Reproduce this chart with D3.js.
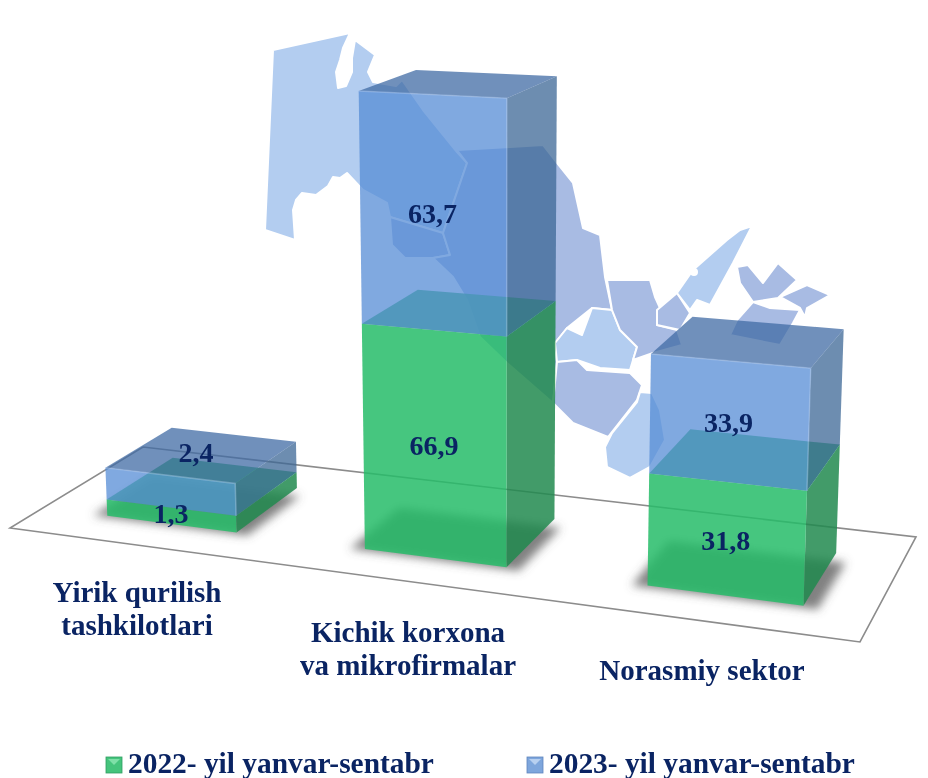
<!DOCTYPE html>
<html>
<head>
<meta charset="utf-8">
<script src="https://cdn.jsdelivr.net/npm/d3@7"></script>
<style>
  html, body { margin: 0; background: #fff; }
  text { font-family: "Liberation Serif", serif; font-weight: bold; fill: #0a2463; }
</style>
</head>
<body>
<div id="chart"></div>
<script>
// Data
const categories = ["Yirik qurilish tashkilotlari", "Kichik korxona va mikrofirmalar", "Norasmiy sektor"];
const values2022 = [1.3, 66.9, 31.8];
const values2023 = [2.4, 63.7, 33.9];
const seriesNames = ["2022- yil yanvar-sentabr", "2023- yil yanvar-sentabr"];
const categoryLines = [["Yirik qurilish", "tashkilotlari"], ["Kichik korxona", "va mikrofirmalar"], ["Norasmiy sektor"]];

const width = 928, height = 778;

const svg = d3.select("#chart").append("svg")
  .attr("width", width)
  .attr("height", height)
  .style("display", "block");

const defs = svg.append("defs");
defs.append("filter").attr("id", "shadowBlur")
  .attr("x", "-30%").attr("y", "-30%").attr("width", "160%").attr("height", "160%")
  .append("feGaussianBlur").attr("stdDeviation", 5);

// Background map, traced by hand. Not data, only decoration
const LIGHT = "#b3cdf0", MID = "#a8bbe3";
const mapRegions = [
  [LIGHT, [[273,50],[350,33],[343,48],[340,60],[336,72],[338,88],[346,86],[352,72],[352,58],[355,40],[375,55],[368,72],[373,82],[396,86],[402,80],[423,110],[457,152],[467,163],[443,233],[390,217],[387,203],[363,190],[347,173],[340,178],[333,177],[328,186],[316,195],[302,193],[296,200],[293,210],[295,240],[265,230]]],
  [MID, [[390,217],[443,233],[450,255],[433,258],[405,258],[392,245]]],
  [MID, [[467,163],[457,150],[510,147],[543,145],[557,163],[573,183],[583,228],[600,235],[605,277],[612,310],[592,308],[567,328],[555,343],[557,362],[553,403],[507,363],[480,337],[467,300],[453,277],[433,258],[450,255],[443,233]]],
  [LIGHT, [[555,343],[567,328],[582,335],[592,308],[612,310],[620,330],[637,347],[630,370],[600,368],[577,360],[557,362]]],
  [MID, [[607,280],[650,280],[655,297],[660,308],[657,325],[677,330],[682,345],[653,353],[633,360],[637,347],[620,330],[612,310]]],
  [MID, [[557,362],[577,360],[587,370],[630,373],[642,385],[637,400],[608,437],[573,423],[553,403]]],
  [LIGHT, [[640,392],[652,393],[660,410],[665,440],[650,467],[630,478],[607,467],[605,447],[612,433],[637,402]]],
  [MID, [[657,310],[677,293],[690,313],[680,330],[657,325]]],
  [LIGHT, [[677,293],[693,270],[727,240],[740,230],[752,226],[733,263],[710,305],[697,300],[690,310]]],
  [MID, [[737,267],[748,265],[763,283],[778,263],[797,280],[778,298],[753,302],[740,283]]],
  [MID, [[780,297],[807,285],[830,295],[807,308],[805,317],[800,308]]],
  [MID, [[737,320],[753,302],[770,308],[800,310],[793,323],[780,345],[730,335]]]
];

const polyLine = d3.line().curve(d3.curveLinearClosed);

const mapLayer = svg.append("g");
mapLayer.selectAll("path")
  .data(mapRegions)
  .join("path")
  .attr("d", d => polyLine(d[1]))
  .attr("fill", d => d[0])
  .attr("stroke", "#fff")
  .attr("stroke-width", 2)
  .attr("stroke-linejoin", "round");
// lake in the Tashkent region
mapLayer.append("circle").attr("cx", 694).attr("cy", 272).attr("r", 4).attr("fill", "#fff");

// Floor quad, corners as seen on screen: front left, front right, back right, back left
const floorCorners = [[10,528],[860,642],[916,537],[143,447]];

// unit square -> quad homography
function makeHomography(q) {
  const [p0, p1, p2, p3] = q;
  const sx = p0[0] - p1[0] + p2[0] - p3[0], sy = p0[1] - p1[1] + p2[1] - p3[1];
  const dx1 = p1[0] - p2[0], dx2 = p3[0] - p2[0], dy1 = p1[1] - p2[1], dy2 = p3[1] - p2[1];
  const den = dx1 * dy2 - dx2 * dy1;
  const g = (sx * dy2 - dx2 * sy) / den, h = (dx1 * sy - sx * dy1) / den;
  const a = p1[0] - p0[0] + g * p1[0], b = p3[0] - p0[0] + h * p3[0], c = p0[0];
  const d = p1[1] - p0[1] + g * p1[1], e = p3[1] - p0[1] + h * p3[1], f = p0[1];
  return (u, v) => {
    const w = g * u + h * v + 1;
    return { x: (a * u + b * v + c) / w, y: (d * u + e * v + f) / w, w };
  };
}
const floor = makeHomography(floorCorners);

const xBand = d3.scaleBand().domain(categories).range([0.087, 0.925]).paddingInner(0.487);
const depth = d3.scaleLinear().domain([0, 1]).range([0.235, 0.75]);

// heights are not to scale in the original, the small bar is drawn much taller
const yHeight = d3.scaleLinear()
  .domain([0, 1.3, 3.7, 31.8, 65.7, 130.6])
  .range([0, 17, 50, 107, 221, 458]);

const refW = floor(0.45, 0.27).w;
const vanishX = 500, vanishDist = 10000;

// floor position plus height, verticals lean away from a far vanishing point
function project(u, v, value) {
  const p = floor(u, v);
  const h = yHeight(value) * refW / p.w;
  return [p.x + (p.x - vanishX) * h / vanishDist, p.y - h];
}

const stacked = d3.stack().keys(["a", "b"])(categories.map((c, i) => ({ cat: c, a: values2022[i], b: values2023[i] })));

function footprint(cat) {
  const u0 = xBand(cat), u1 = u0 + xBand.bandwidth();
  return { u0, u1, v0: depth(0), v1: depth(1) };
}

// Floor outline and bar shadows
svg.append("path")
  .attr("d", polyLine(floorCorners))
  .attr("fill", "none")
  .attr("stroke", "#8c8c8c")
  .attr("stroke-width", 1.6);

svg.append("g").attr("filter", "url(#shadowBlur)")
  .selectAll("path")
  .data(categories)
  .join("path")
  .attr("fill", "#555")
  .attr("opacity", 0.75)
  .attr("d", c => {
    const f = footprint(c), m = 0.016;
    return polyLine([[f.u0 - m, f.v0 - m], [f.u1 + m, f.v0 - m], [f.u1 + m, f.v1 - 0.08], [f.u0 - m, f.v1 - 0.08]]
      .map(q => { const p = floor(q[0], q[1]); return [p.x, p.y]; }));
  });

const faceStyles = [
  { front: "rgb(38,188,104)", side: "rgb(33,137,79)", top: "rgb(42,176,94)", alpha: 0.85 },
  { front: "rgb(86,140,214)", side: "rgb(60,103,149)", top: "rgb(64,107,164)", alpha: 0.75 }
];

const barLayer = svg.append("g");

stacked.forEach((series, si) => {
  const style = faceStyles[si];
  series.forEach(seg => {
    const f = footprint(seg.data.cat);
    const y0 = seg[0], y1 = seg[1];
    const g = barLayer.append("g").attr("fill-opacity", style.alpha);
    // right face
    g.append("path").attr("fill", style.side)
      .attr("d", polyLine([project(f.u1, f.v0, y0), project(f.u1, f.v1, y0), project(f.u1, f.v1, y1), project(f.u1, f.v0, y1)]));
    // front face
    g.append("path").attr("fill", style.front)
      .attr("d", polyLine([project(f.u0, f.v0, y0), project(f.u1, f.v0, y0), project(f.u1, f.v0, y1), project(f.u0, f.v0, y1)]));
    // top face
    g.append("path").attr("fill", style.top)
      .attr("d", polyLine([project(f.u0, f.v0, y1), project(f.u1, f.v0, y1), project(f.u1, f.v1, y1), project(f.u0, f.v1, y1)]));
    // soft highlight on the front edges
    if (si === 1) {
      g.append("path").attr("fill", "none").attr("stroke", "#a9c6ee").attr("stroke-opacity", 0.45).attr("stroke-width", 1.5)
        .attr("d", d3.line()([project(f.u0, f.v0, y1), project(f.u1, f.v0, y1), project(f.u1, f.v0, y0)]));
    }
  });
});

// Value labels
const fmt = d3.formatLocale({ decimal: ",", thousands: " ", grouping: [3], currency: ["", ""] }).format(".1f");

stacked.forEach((series, si) => {
  series.forEach((seg, i) => {
    const f = footprint(seg.data.cat);
    const um = (f.u0 + f.u1) / 2;
    const a = project(um, f.v0, seg[0]), b = project(um, f.v0, seg[1]);
    let lx = (a[0] + b[0]) / 2, ly = (a[1] + b[1]) / 2 + 11;
    // the small bar has its upper label pushed up and right
    if (i === 0 && si === 1) { lx += 26; ly -= 41; }
    if (i === 0 && si === 0) { ly -= 4; }
    svg.append("text")
      .attr("x", lx)
      .attr("y", ly)
      .attr("text-anchor", "middle")
      .style("font-size", "28px")
      .text(fmt(seg[1] - seg[0]));
  });
});

// Category labels
const labelX = [137, 408, 702];
const labelY = [602, 642, 680];
categoryLines.forEach((lines, i) => {
  lines.forEach((t, j) => {
    svg.append("text")
      .attr("x", labelX[i])
      .attr("y", labelY[i] + j * 33)
      .attr("text-anchor", "middle")
      .style("font-size", "29px")
      .text(t);
  });
});

// Legend
const legendX = [106, 527];
const legendColors = [["#45c47c", "#2f9e62", "#7fe0a8"], ["#7ea6dc", "#5f86bd", "#b8d0f0"]];
seriesNames.forEach((name, i) => {
  const x = legendX[i], s = 16, y = 757;
  const g = svg.append("g");
  g.append("rect").attr("x", x).attr("y", y).attr("width", s).attr("height", s).attr("fill", legendColors[i][0]).attr("stroke", legendColors[i][1]).attr("stroke-width", 0.8);
  g.append("path").attr("fill", legendColors[i][2]).attr("d", polyLine([[x + 2, y + 2], [x + s - 2, y + 2], [x + s / 2, y + s / 2]]));
  g.append("text").attr("x", x + 22).attr("y", 773).style("font-size", "29.4px").text(name);
});
</script>
</body>
</html>
